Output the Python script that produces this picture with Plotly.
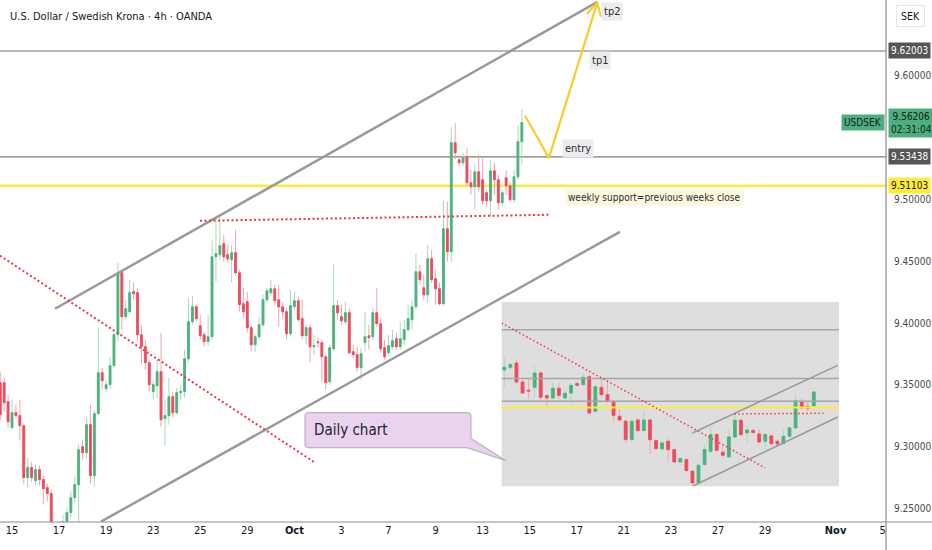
import plotly.graph_objects as go

FONT = "DejaVu Sans Condensed, Lato, sans-serif"
TITLE = "U.S. Dollar / Swedish Krona · 4h · OANDA"

# ---------------- main 4h candles (bar index 0..133) ----------------
OPEN = [9.3518, 9.3518, 9.3365, 9.3155, 9.3276, 9.3252, 9.3171, 9.2751, 9.2832, 9.2727,
        9.2815, 9.2735, 9.2670, 9.2622, 9.2331, 9.2169, 9.2331, 9.2387, 9.2468, 9.2589,
        9.2694, 9.3001, 9.2953, 9.3179, 9.2767, 9.3268, 9.3599, 9.3470, 9.3502, 9.3656,
        9.3906, 9.4407, 9.4052, 9.4092, 9.4254, 9.4246, 9.3906, 9.3809, 9.3680, 9.3446,
        9.3494, 9.3607, 9.3228, 9.3252, 9.3405, 9.3276, 9.3438, 9.3446, 9.3712, 9.4011,
        9.4132, 9.3979, 9.3906, 9.3850, 9.3890, 9.4536, 9.4553, 9.4642, 9.4553, 9.4512,
        9.4569, 9.4407, 9.4157, 9.4173, 9.3963, 9.3825, 9.3890, 9.3987, 9.4189, 9.4246,
        9.4278, 9.4189, 9.4132, 9.4092, 9.3914, 9.4132, 9.4181, 9.4036, 9.3898, 9.3963,
        9.3809, 9.3850, 9.3842, 9.3728, 9.3526, 9.3793, 9.4141, 9.4052, 9.4011, 9.4084,
        9.3769, 9.3745, 9.3640, 9.3842, 9.3898, 9.3890, 9.4084, 9.3995, 9.3801, 9.3761,
        9.3809, 9.3874, 9.3809, 9.3866, 9.3947, 9.4027, 9.4132, 9.4415, 9.4286, 9.4229,
        9.4520, 9.4359, 9.4278, 9.4157, 9.4763, 9.4577, 9.5458, 9.5320, 9.5296, 9.5344,
        9.5134, 9.5102, 9.5223, 9.5159, 9.5054, 9.4989, 9.5231, 9.5159, 9.4973, 9.5175,
        9.5110, 9.4997, 9.5183, 9.5466]
HIGH = [9.3607, 9.3559, 9.3421, 9.3381, 9.3341, 9.3381, 9.3187, 9.2912, 9.2880, 9.2856,
        9.2848, 9.2767, 9.2702, 9.2654, 9.2379, 9.2371, 9.2452, 9.2508, 9.2638, 9.2767,
        9.3017, 9.3058, 9.3236, 9.3341, 9.3300, 9.3963, 9.3640, 9.3543, 9.3720, 9.3947,
        9.4488, 9.4431, 9.4189, 9.4351, 9.4326, 9.4278, 9.3987, 9.3866, 9.3704, 9.3543,
        9.3704, 9.3922, 9.3381, 9.3559, 9.3446, 9.3478, 9.3502, 9.3785, 9.4205, 9.4221,
        9.4149, 9.4068, 9.3930, 9.4068, 9.4674, 9.4852, 9.4876, 9.4714, 9.4633, 9.4633,
        9.4755, 9.4431, 9.4286, 9.4254, 9.3987, 9.3906, 9.4044, 9.4229, 9.4286, 9.4351,
        9.4310, 9.4310, 9.4173, 9.4124, 9.4270, 9.4254, 9.4213, 9.4189, 9.3987, 9.3987,
        9.3906, 9.3882, 9.3866, 9.3745, 9.3825, 9.4472, 9.4189, 9.4149, 9.4173, 9.4124,
        9.3825, 9.3809, 9.3801, 9.4092, 9.3987, 9.4124, 9.4286, 9.4044, 9.3866, 9.3906,
        9.3947, 9.3922, 9.4011, 9.4027, 9.4149, 9.4189, 9.4561, 9.4472, 9.4391, 9.4633,
        9.4593, 9.4431, 9.4326, 9.4997, 9.4981, 9.5587, 9.5619, 9.5361, 9.5377, 9.5417,
        9.5239, 9.5280, 9.5361, 9.5344, 9.5078, 9.5320, 9.5296, 9.5199, 9.5078, 9.5239,
        9.5142, 9.5239, 9.5595, 9.5732]
LOW = [9.3211, 9.3284, 9.3155, 9.3139, 9.3236, 9.3058, 9.2702, 9.2670, 9.2718, 9.2694,
       9.2686, 9.2533, 9.2557, 9.2290, 9.2088, 9.2048, 9.2290, 9.2347, 9.2428, 9.2549,
       9.2387, 9.2896, 9.2912, 9.2702, 9.2678, 9.3252, 9.3462, 9.3438, 9.3462, 9.3640,
       9.3850, 9.3947, 9.4027, 9.4076, 9.4189, 9.3850, 9.3664, 9.3623, 9.3446, 9.3381,
       9.3397, 9.3163, 9.3009, 9.3179, 9.3236, 9.3260, 9.3381, 9.3397, 9.3688, 9.3987,
       9.4011, 9.3866, 9.3809, 9.3817, 9.3866, 9.4334, 9.4512, 9.4496, 9.4488, 9.4326,
       9.4383, 9.4092, 9.4044, 9.3922, 9.3769, 9.3769, 9.3866, 9.3963, 9.4165, 9.4221,
       9.4149, 9.3971, 9.4044, 9.3866, 9.3890, 9.4108, 9.4011, 9.3866, 9.3825, 9.3688,
       9.3745, 9.3801, 9.3526, 9.3462, 9.3502, 9.3769, 9.4027, 9.3987, 9.3987, 9.3745,
       9.3720, 9.3607, 9.3543, 9.3769, 9.3785, 9.3866, 9.3971, 9.3769, 9.3704, 9.3737,
       9.3785, 9.3785, 9.3785, 9.3825, 9.3930, 9.3947, 9.4108, 9.4310, 9.4189, 9.4165,
       9.4326, 9.4149, 9.4141, 9.4141, 9.4496, 9.4496, 9.5320, 9.5272, 9.5272, 9.5110,
       9.5037, 9.4916, 9.5062, 9.4957, 9.4940, 9.4860, 9.5037, 9.4916, 9.4949, 9.5037,
       9.4989, 9.4973, 9.5159, 9.5280]
CLOSE = [9.3260, 9.3357, 9.3203, 9.3276, 9.3252, 9.3171, 9.2751, 9.2832, 9.2751, 9.2815,
         9.2735, 9.2662, 9.2622, 9.2331, 9.2169, 9.2290, 9.2395, 9.2468, 9.2589, 9.2694,
         9.2977, 9.2953, 9.3179, 9.2767, 9.3268, 9.3599, 9.3534, 9.3502, 9.3656, 9.3906,
         9.4407, 9.4052, 9.4116, 9.4246, 9.4237, 9.3906, 9.3809, 9.3680, 9.3502, 9.3502,
         9.3607, 9.3219, 9.3252, 9.3405, 9.3276, 9.3438, 9.3446, 9.3712, 9.4011, 9.4132,
         9.4036, 9.3898, 9.3850, 9.3890, 9.4536, 9.4561, 9.4625, 9.4536, 9.4520, 9.4569,
         9.4407, 9.4149, 9.4092, 9.3963, 9.3825, 9.3890, 9.3987, 9.4189, 9.4262, 9.4278,
         9.4181, 9.4132, 9.4092, 9.3914, 9.4141, 9.4181, 9.4027, 9.3898, 9.3963, 9.3809,
         9.3817, 9.3842, 9.3728, 9.3518, 9.3801, 9.4141, 9.4084, 9.4019, 9.4084, 9.3761,
         9.3745, 9.3640, 9.3753, 9.3890, 9.3882, 9.4084, 9.3995, 9.3793, 9.3728, 9.3817,
         9.3858, 9.3809, 9.3874, 9.3947, 9.4036, 9.4132, 9.4415, 9.4351, 9.4229, 9.4520,
         9.4351, 9.4278, 9.4157, 9.4763, 9.4577, 9.5458, 9.5377, 9.5296, 9.5336, 9.5134,
         9.5102, 9.5223, 9.5102, 9.4989, 9.4989, 9.5231, 9.5159, 9.4973, 9.5054, 9.5110,
         9.4997, 9.5183, 9.5466, 9.5621]
BARS = list(range(len(CLOSE)))

# x-axis date labels (bar index of each label, 6 bars per day)
X_TICK_BARS = [3, 15, 27, 39, 51, 63, 75, 87, 99, 111, 123, 135, 147, 159, 171, 183, 195, 213, 225]
X_TICK_TEXT = ["15", "17", "19", "23", "25", "29", "<b>Oct</b>", "3", "7", "9", "13", "15", "17",
               "21", "23", "27", "29", "<b>Nov</b>", "5"]
Y_TICKS = [9.25, 9.30, 9.35, 9.40, 9.45, 9.50, 9.60]

# horizontal levels
TP1_LEVEL = 9.62003
ENTRY_LEVEL = 9.53438
SUPPORT_LEVEL = 9.51103
LAST_PRICE = 9.56206

# drawn trend lines (bar index, price)
CHANNEL_UP_X = [13.97, 152.3]
CHANNEL_UP_Y = [9.4116, 9.6597]
CHANNEL_LO_X = [25.69, 158.0]
CHANNEL_LO_Y = [9.2395, 9.4738]
DOWNTREND_X = [-0.06, 80.26]
DOWNTREND_Y = [9.4545, 9.2872]
RESIST_X = [50.94, 140.4]
RESIST_Y = [9.4827, 9.4876]
PROJ_X = [133.8, 139.9, 152.2]
PROJ_Y = [9.5676, 9.5336, 9.6589]
ARROW_X = [149.6, 152.2, 153.2]
ARROW_Y = [9.6500, 9.6589, 9.6476]

# ---------------- inset: daily candles ----------------
D_OPEN = [9.6519, 9.6619, 9.6781, 9.6069, 9.5756, 9.5869, 9.6406, 9.5556, 9.5469, 9.5831,
          9.5469, 9.5656, 9.6006, 9.5969, 9.6269, 9.4969, 9.5869, 9.5594, 9.5344, 9.4781,
          9.4594, 9.3906, 9.4644, 9.4244, 9.4644, 9.3869, 9.3556, 9.3844, 9.3531, 9.3069,
          9.3156, 9.2719, 9.2281, 9.2969, 9.3469, 9.4094, 9.3431, 9.3256, 9.4006, 9.4631,
          9.4156, 9.4244, 9.4119, 9.3844, 9.4044, 9.3844, 9.3756, 9.4031, 9.4344, 9.5319,
          9.5156, 9.5169]
D_HIGH = [9.6969, 9.6781, 9.6906, 9.6156, 9.6156, 9.6656, 9.6469, 9.5594, 9.6031, 9.6031,
          9.5781, 9.6031, 9.6069, 9.6369, 9.6344, 9.5969, 9.6219, 9.6156, 9.5406, 9.5031,
          9.4656, 9.4619, 9.4719, 9.4969, 9.4694, 9.3944, 9.3844, 9.3944, 9.3569, 9.3244,
          9.3219, 9.2781, 9.3031, 9.3719, 9.4406, 9.4119, 9.3656, 9.4281, 9.4844, 9.4694,
          9.4406, 9.4319, 9.4281, 9.4156, 9.4094, 9.3906, 9.4281, 9.4406, 9.5619, 9.5469,
          9.5344, 9.5719]
D_LOW = [9.5906, 9.6531, 9.5994, 9.5619, 9.5444, 9.5469, 9.5406, 9.5069, 9.5406, 9.5444,
         9.5444, 9.5244, 9.5906, 9.5944, 9.4819, 9.4944, 9.5531, 9.5281, 9.4594, 9.4594,
         9.3781, 9.3869, 9.4194, 9.4219, 9.3369, 9.3531, 9.3506, 9.3094, 9.3031, 9.3031,
         9.2719, 9.2219, 9.2244, 9.2944, 9.3406, 9.3469, 9.3281, 9.3219, 9.3969, 9.4031,
         9.3781, 9.4119, 9.3781, 9.3531, 9.3694, 9.3719, 9.3719, 9.3994, 9.4319, 9.5031,
         9.4969, 9.5144]
D_CLOSE = [9.6619, 9.6719, 9.6069, 9.5656, 9.5731, 9.6406, 9.5494, 9.5469, 9.5831, 9.5569,
           9.5644, 9.5944, 9.5944, 9.6244, 9.4906, 9.5894, 9.5594, 9.5344, 9.4819, 9.4644,
           9.3906, 9.4594, 9.4244, 9.4644, 9.3906, 9.3569, 9.3781, 9.3531, 9.3069, 9.3194,
           9.2744, 9.2281, 9.2944, 9.3531, 9.4094, 9.3506, 9.3319, 9.4006, 9.4631, 9.4094,
           9.4269, 9.4169, 9.3819, 9.4094, 9.3756, 9.3744, 9.4031, 9.4344, 9.5369, 9.5094,
           9.5069, 9.5694]
D_BARS = list(range(len(D_CLOSE)))
D_LEVELS_GRAY = [9.8031, 9.62003, 9.53438]
D_LEVEL_YELLOW = 9.51103
D_DOWN_X = [-0.44, 42.97]
D_DOWN_Y = [9.8281, 9.2844]
D_CH_UP_X = [31.0, 54.95]
D_CH_UP_Y = [9.4156, 9.6694]
D_CH_LO_X = [31.0, 54.95]
D_CH_LO_Y = [9.2156, 9.4756]
D_RES_X = [37.9, 52.6]
D_RES_Y = [9.4869, 9.4894]

UP = "#4cb17f"
DN = "#ef4a5c"
UP_W = "#a5dbbb"
DN_W = "#f6a3ad"
GRAY_LINE = "#9a9a9a"
YELLOW = "#ffeb3b"
RED_DOT = "#f23645"

fig = go.Figure()


def add_candles(fig, x, o, h, l, c, xa, ya):
    # light wicks
    fig.add_trace(go.Candlestick(
        x=x, open=o, high=h, low=l, close=c, xaxis=xa, yaxis=ya,
        increasing=dict(line=dict(color=UP_W, width=1), fillcolor=UP_W),
        decreasing=dict(line=dict(color=DN_W, width=1), fillcolor=DN_W),
        whiskerwidth=0, hoverinfo="skip"))
    # solid bodies
    top = [max(a, b) for a, b in zip(o, c)]
    bot = [min(a, b) for a, b in zip(o, c)]
    fig.add_trace(go.Candlestick(
        x=x, open=o, high=top, low=bot, close=c, xaxis=xa, yaxis=ya,
        increasing=dict(line=dict(color=UP, width=0.8), fillcolor=UP),
        decreasing=dict(line=dict(color=DN, width=0.8), fillcolor=DN),
        whiskerwidth=0, hoverinfo="skip"))


def add_line(x, y, color, width, dash="solid", xa="x", ya="y"):
    fig.add_trace(go.Scatter(x=x, y=y, mode="lines", xaxis=xa, yaxis=ya,
                             line=dict(color=color, width=width, dash=dash),
                             hoverinfo="skip"))


# ---- main chart drawings ----
add_line(CHANNEL_UP_X, CHANNEL_UP_Y, GRAY_LINE, 2.5)
add_line(CHANNEL_LO_X, CHANNEL_LO_Y, GRAY_LINE, 2.5)
add_line(DOWNTREND_X, DOWNTREND_Y, RED_DOT, 2, "2px,2.5px")
add_line(RESIST_X, RESIST_Y, RED_DOT, 2, "2px,2.5px")
add_candles(fig, BARS, OPEN, HIGH, LOW, CLOSE, "x", "y")
add_line(PROJ_X, PROJ_Y, "#f9cc2e", 2.2)
add_line(ARROW_X, ARROW_Y, "#f9cc2e", 2.2)

# ---- inset ----
for lv in D_LEVELS_GRAY:
    add_line([-0.44, 55.16], [lv, lv], "#a6a6a6", 1.5, xa="x2", ya="y2")
add_line([-0.44, 55.16], [D_LEVEL_YELLOW, D_LEVEL_YELLOW], YELLOW, 2, xa="x2", ya="y2")
add_line(D_DOWN_X, D_DOWN_Y, RED_DOT, 1.5, "1.5px,2.5px", "x2", "y2")
add_line(D_CH_UP_X, D_CH_UP_Y, GRAY_LINE, 1.5, xa="x2", ya="y2")
add_line(D_CH_LO_X, D_CH_LO_Y, GRAY_LINE, 1.5, xa="x2", ya="y2")
add_line(D_RES_X, D_RES_Y, RED_DOT, 1.5, "1.5px,2.5px", "x2", "y2")
add_candles(fig, D_BARS, D_OPEN, D_HIGH, D_LOW, D_CLOSE, "x2", "y2")

PLOT_H = 522.0
IN_X0, IN_X1, IN_Y0, IN_Y1 = 0.5662, 0.9470, 0.0685, 0.4214
shapes = [
    # inset background
    dict(type="rect", xref="paper", yref="paper", x0=IN_X0, x1=IN_X1, y0=IN_Y0, y1=IN_Y1,
         fillcolor="#dedede", line=dict(width=0), layer="below"),
    # horizontal levels
    dict(type="line", xref="paper", yref="y", x0=0, x1=1, y0=TP1_LEVEL, y1=TP1_LEVEL,
         line=dict(color="#a0a0a0", width=1.6), layer="below"),
    dict(type="line", xref="paper", yref="y", x0=0, x1=1, y0=ENTRY_LEVEL, y1=ENTRY_LEVEL,
         line=dict(color="#7d7d7d", width=1.1), layer="below"),
    dict(type="line", xref="paper", yref="y", x0=0, x1=1, y0=SUPPORT_LEVEL, y1=SUPPORT_LEVEL,
         line=dict(color=YELLOW, width=2.6), layer="below"),
    # axis frame extensions
    dict(type="line", xref="paper", yref="paper", x0=0, x1=932 / 886, y0=0, y1=0,
         line=dict(color="#8c8c8c", width=1.2)),
    dict(type="line", xref="paper", yref="paper", x0=1, x1=1, y0=-28 / PLOT_H, y1=1,
         line=dict(color="#8c8c8c", width=1.2)),
    # "Daily chart" callout
    dict(type="path", xref="x", yref="y", layer="above",
         path=("M 78.73,9.3276 L 119.01,9.3276 Q 120.03,9.3276 120.03,9.3244 "
               "L 120.03,9.3066 L 128.95,9.2888 L 119.0,9.2993 L 78.73,9.2993 "
               "Q 77.71,9.2993 77.71,9.3025 L 77.71,9.3244 Q 77.71,9.3276 78.73,9.3276 Z"),
         fillcolor="#e9d3ee", line=dict(color="#bdb3c2", width=1.2)),
]

ann = []
ann.append(dict(xref="paper", yref="paper", x=8 / 886, y=1 - 16 / PLOT_H, xanchor="left",
                yanchor="middle", text=TITLE, showarrow=False,
                font=dict(family=FONT, size=11, color="#131722")))
ann.append(dict(xref="paper", yref="paper", x=1 + 24 / 886, y=1 - 16 / PLOT_H, xanchor="center",
                yanchor="middle", text="SEK", showarrow=False, bgcolor="white",
                bordercolor="#e3e5ea", borderwidth=1, borderpad=4,
                font=dict(family=FONT, size=10.5, color="#131722")))


def price_tag(y, text, bg, fg):
    ann.append(dict(xref="paper", yref="y", x=1.002, y=y, xanchor="left", yanchor="middle",
                    text=text, showarrow=False, bgcolor=bg, borderpad=2,
                    font=dict(family=FONT, size=10, color=fg)))


price_tag(TP1_LEVEL, f"{TP1_LEVEL:.5f}", "#555555", "white")
price_tag(LAST_PRICE, f"{LAST_PRICE:.5f}<br>02:31:04", "#4caf7f", "#152019")
price_tag(ENTRY_LEVEL, f"{ENTRY_LEVEL:.5f}", "#555555", "white")
price_tag(SUPPORT_LEVEL, f"{SUPPORT_LEVEL:.5f}", YELLOW, "#131722")
ann.append(dict(xref="paper", yref="y", x=0.999, y=LAST_PRICE, xanchor="right", yanchor="middle",
                text="USDSEK", showarrow=False, bgcolor="#4caf7f", borderpad=2,
                font=dict(family=FONT, size=10, color="#152019")))


def label(x, y, text, bg, size=11):
    ann.append(dict(xref="x", yref="y", x=x, y=y, xanchor="center", yanchor="middle",
                    text=text, showarrow=False, bgcolor=bg, borderpad=2,
                    font=dict(family=FONT, size=size, color="#2a2e39")))


label(156.0, 9.6516, "tp2", "#ececec")
label(152.9, 9.6120, "tp1", "#ececec")
label(147.3, 9.5409, "entry", "#ececec")
label(166.7, 9.5013, "weekly support=previous weeks close", "#fdf7dc", size=10)
ann.append(dict(xref="x", yref="y", x=79.4, y=9.3139, xanchor="left", yanchor="middle",
                text="Daily chart", showarrow=False,
                font=dict(family=FONT, size=15, color="#1e222d")))

fig.update_layout(
    width=932, height=550,
    margin=dict(l=0, r=46, t=0, b=28),
    paper_bgcolor="white", plot_bgcolor="rgba(0,0,0,0)",
    showlegend=False, hovermode=False,
    boxmode="overlay", boxgap=0.35,
    shapes=shapes, annotations=ann,
    xaxis=dict(range=[-0.06, 225.85], tickvals=X_TICK_BARS, ticktext=X_TICK_TEXT,
               showgrid=False, zeroline=False, showline=False, ticks="",
               tickfont=dict(family=FONT, size=11, color="#131722"),
               rangeslider=dict(visible=False), fixedrange=True),
    yaxis=dict(range=[9.2392, 9.6612], side="right", tickvals=Y_TICKS,
               ticktext=[f"{v:.5f}" for v in Y_TICKS],
               showgrid=False, zeroline=False, showline=False, ticks="",
               ticklabelstandoff=7,
               tickfont=dict(family=FONT, size=10, color="#4a4a4a")),
    xaxis2=dict(domain=[IN_X0, IN_X1], anchor="y2", range=[-0.44, 55.16], visible=False,
                rangeslider=dict(visible=False)),
    yaxis2=dict(domain=[IN_Y0, IN_Y1], anchor="x2", range=[9.2156, 9.9069], visible=False),
)

fig.write_html("out.html", config={"displayModeBar": False},
               post_script="document.body.style.margin='0';")
